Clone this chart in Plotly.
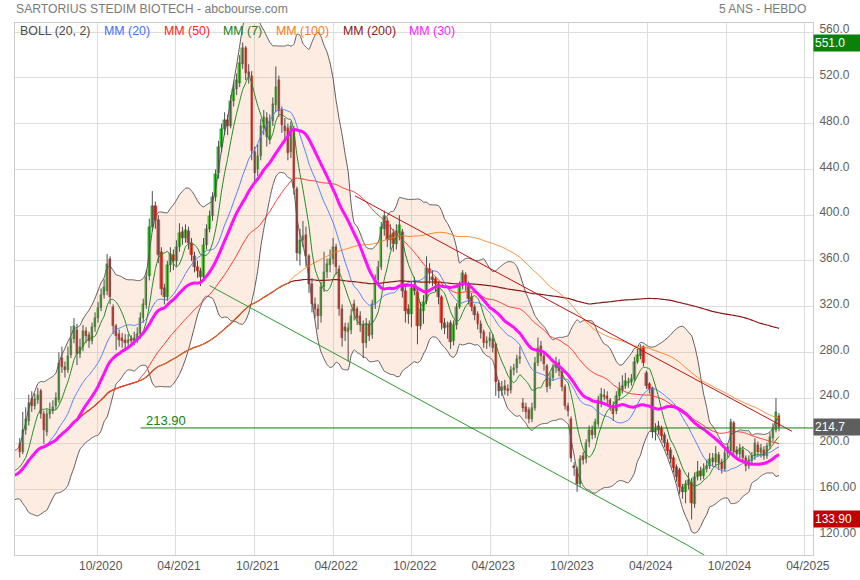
import pandas as pd
import plotly.graph_objects as go

# ---------------- data (weekly candles) ----------------
history_closes = [158, 162, 170, 178, 186, 190, 180, 160, 168, 182]

opens = [
    200, 193, 212, 220, 239, 233, 238, 246, 226, 210,
    226, 229, 233, 238, 275, 267, 265, 278, 292, 300,
    279, 285, 299, 295, 290, 302, 310, 319, 330, 334,
    362, 320, 303, 296, 293, 291, 288, 292, 290, 292,
    296, 310, 321, 347, 390, 408, 396, 368, 336, 328,
    356, 365, 360, 372, 385, 380, 386, 376, 364, 355,
    351, 346, 374, 388, 399, 416, 437, 460, 475, 483,
    478, 500, 510, 516, 532, 546, 525, 522, 455, 440,
    452, 476, 485, 466, 482, 496, 518, 492, 478, 476,
    455, 474, 423, 366, 378, 383, 364, 340, 322, 318,
    312, 337, 350, 356, 362, 372, 353, 318, 302, 298,
    300, 322, 318, 312, 304, 288, 305, 295, 322, 343,
    355, 388, 395, 378, 384, 375, 385, 385, 334, 318,
    314, 337, 333, 303, 316, 325, 353, 346, 344, 340,
    328, 306, 302, 306, 290, 304, 320, 338, 348, 340,
    328, 320, 314, 305, 298, 288, 290, 292, 287, 253,
    246, 251, 248, 247, 265, 266, 274, 236, 232, 230,
    222, 231, 271, 286, 277, 268, 251, 258, 266, 271,
    263, 250, 233, 222, 181, 178, 165, 189, 187, 202,
    212, 208, 217, 236, 243, 242, 238, 233, 229, 242,
    247, 251, 253, 254, 257, 272, 277, 285, 262, 252,
    249, 210, 216, 214, 208, 201, 195, 188, 180, 177,
    162, 158, 164, 166, 147, 171, 176, 172, 178, 181,
    188, 184, 190, 184, 178, 192, 194, 218, 195, 191,
    195, 188, 181, 185, 189, 199, 192, 195, 189, 198,
    205, 212, 224,
]

highs = [
    205, 228, 232, 243, 246, 244, 249, 248, 229, 230,
    236, 238, 245, 280, 285, 272, 285, 303, 310, 305,
    292, 304, 302, 298, 306, 315, 324, 336, 344, 366,
    364, 322, 305, 300, 297, 296, 296, 295, 298, 302,
    315, 327, 352, 397, 421, 412, 400, 372, 340, 360,
    372, 370, 378, 393, 390, 392, 390, 380, 368, 360,
    354, 380, 392, 404, 420, 440, 465, 480, 490, 488,
    505, 516, 524, 540, 551, 548, 532, 526, 460, 462,
    484, 492, 490, 488, 503, 530, 522, 495, 485, 480,
    482, 478, 425, 388, 395, 390, 366, 345, 328, 322,
    342, 368, 362, 370, 380, 375, 356, 322, 306, 306,
    318, 326, 320, 316, 308, 310, 308, 326, 348, 360,
    394, 404, 398, 392, 388, 392, 400, 388, 338, 322,
    342, 346, 337, 324, 330, 364, 358, 352, 346, 342,
    330, 310, 307, 308, 308, 323, 342, 352, 350, 342,
    332, 322, 316, 308, 300, 294, 298, 296, 288, 256,
    255, 256, 252, 268, 270, 278, 285, 240, 236, 232,
    236, 276, 293, 290, 280, 270, 262, 270, 276, 274,
    265, 252, 236, 224, 184, 180, 190, 193, 204, 216,
    216, 222, 242, 249, 248, 246, 240, 237, 246, 254,
    260, 262, 258, 261, 276, 283, 287, 286, 264, 254,
    250, 218, 220, 216, 210, 204, 197, 190, 182, 179,
    165, 168, 175, 170, 175, 185, 180, 183, 186, 192,
    192, 198, 193, 187, 196, 200, 222, 220, 198, 200,
    198, 190, 190, 193, 205, 202, 200, 198, 201, 210,
    218, 240, 227,
]

lows = [
    188, 191, 208, 216, 228, 230, 235, 222, 200, 207,
    222, 226, 230, 236, 262, 258, 262, 275, 288, 269,
    275, 281, 288, 284, 287, 298, 306, 316, 327, 330,
    322, 296, 282, 285, 284, 282, 284, 285, 286, 288,
    292, 306, 318, 343, 386, 388, 358, 330, 322, 325,
    350, 352, 355, 368, 374, 376, 370, 360, 350, 345,
    338, 344, 370, 385, 395, 412, 432, 455, 470, 470,
    476, 495, 505, 512, 528, 518, 515, 448, 430, 434,
    448, 470, 460, 462, 478, 490, 486, 472, 465, 448,
    450, 418, 360, 356, 372, 355, 332, 315, 310, 300,
    306, 333, 345, 350, 357, 348, 312, 285, 290, 272,
    296, 308, 304, 298, 275, 284, 290, 292, 318, 338,
    352, 382, 372, 370, 368, 370, 378, 328, 306, 305,
    302, 330, 287, 300, 305, 322, 340, 338, 333, 322,
    300, 296, 292, 283, 286, 300, 318, 335, 334, 322,
    316, 308, 300, 292, 284, 283, 285, 280, 242, 240,
    242, 243, 242, 244, 260, 262, 270, 228, 222, 218,
    219, 229, 268, 272, 264, 245, 248, 255, 262, 259,
    246, 230, 224, 184, 172, 158, 162, 182, 183, 197,
    204, 205, 215, 232, 238, 235, 229, 220, 226, 238,
    244, 248, 249, 251, 255, 270, 274, 268, 248, 244,
    205, 203, 208, 203, 197, 190, 183, 175, 167, 156,
    152, 148, 160, 133.9, 144, 168, 168, 169, 175, 178,
    180, 180, 177, 174, 176, 188, 192, 190, 186, 187,
    184, 176, 178, 182, 186, 189, 188, 186, 187, 195,
    202, 210, 211,
]

closes = [
    193, 212, 222, 236, 233, 239, 243, 226, 212, 226,
    229, 232, 240, 271, 267, 265, 277, 292, 303, 279,
    285, 299, 294, 290, 302, 310, 319, 330, 337, 357,
    328, 303, 294, 291, 290, 288, 291, 290, 293, 296,
    310, 322, 346, 390, 408, 396, 365, 335, 328, 356,
    366, 360, 372, 384, 380, 387, 376, 365, 355, 351,
    346, 374, 388, 399, 416, 436, 460, 475, 483, 478,
    500, 510, 518, 533, 546, 524, 522, 456, 437, 452,
    478, 486, 468, 482, 497, 512, 491, 479, 474, 454,
    478, 424, 367, 378, 382, 364, 340, 322, 318, 312,
    337, 350, 357, 362, 372, 355, 318, 293, 299, 301,
    312, 316, 310, 304, 288, 305, 294, 322, 343, 355,
    390, 399, 378, 383, 375, 386, 391, 334, 316, 314,
    336, 334, 303, 318, 324, 354, 349, 343, 340, 328,
    306, 301, 302, 289, 304, 320, 338, 349, 340, 327,
    320, 313, 305, 297, 288, 290, 293, 284, 254, 246,
    250, 247, 246, 265, 266, 274, 276, 231, 228, 222,
    231, 271, 284, 277, 270, 250, 258, 266, 272, 264,
    250, 233, 229, 188, 179, 165, 187, 186, 201, 212,
    208, 219, 238, 244, 241, 239, 233, 226, 242, 248,
    251, 255, 254, 257, 272, 278, 283, 271, 251, 248,
    210, 213, 212, 207, 201, 194, 187, 179, 171, 162,
    158, 165, 168, 148, 171, 175, 172, 178, 181, 187,
    184, 191, 183, 178, 192, 197, 219, 194, 191, 196,
    188, 181, 186, 189, 201, 193, 196, 189, 198, 206,
    213, 228, 214.7,
]

x_tick_dates = ["2020-10-01", "2021-04-01", "2021-10-01", "2022-04-01", "2022-10-01",
                "2023-04-01", "2023-10-01", "2024-04-01", "2024-10-01", "2025-04-01"]
x_tick_labels = ["10/2020", "04/2021", "10/2021", "04/2022", "10/2022",
                 "04/2023", "10/2023", "04/2024", "10/2024", "04/2025"]
y_tick_values = [120, 160, 200, 240, 280, 320, 360, 400, 440, 480, 520, 560]
y_tick_labels = ["120.00", "160.00", "200.0", "240.0", "280.0", "320.0",
                 "360.0", "400.0", "440.0", "480.0", "520.0", "560.0"]

period_high = 551.0
period_low = 133.90
last_price = 214.7
support_level = 213.90
support_start = "2021-01-09"
green_trend_dates = ["2021-06-18", "2024-07-01", "2024-10-20"]
green_trend_values = [338.4, 111.7, 86.8]
red_trend_dates = ["2022-05-22", "2025-03-02"]
red_trend_values = [416.9, 211.0]

# ---------------- derived series ----------------
n = len(closes)
dates = pd.date_range("2020-04-03", periods=n, freq="7D")
hist_dates = pd.date_range(end=dates[0] - pd.Timedelta(days=7), periods=len(history_closes), freq="7D")
all_dates = hist_dates.append(dates)
s = pd.Series(history_closes + closes, index=all_dates, dtype=float)


def sma(p):
    return s.rolling(p, min_periods=1).mean()


mid20 = sma(20)
std20 = s.rolling(20, min_periods=1).std(ddof=0)
boll_up = mid20 + 2 * std20
boll_lo = mid20 - 2 * std20

FONT = "Liberation Sans, Arial, sans-serif"
fig = go.Figure()

spl = dict(shape="spline", smoothing=0.5)

# Bollinger band
fig.add_trace(go.Scatter(x=all_dates, y=boll_lo, mode="lines",
                         line=dict(color="#5a5a5a", width=1, **spl), hoverinfo="skip"))
fig.add_trace(go.Scatter(x=all_dates, y=boll_up, mode="lines", fill="tonexty",
                         fillcolor="rgba(247,170,120,0.22)",
                         line=dict(color="#5a5a5a", width=1, **spl), hoverinfo="skip"))

# wicks
wx, wy = [], []
for d, h, l in zip(dates, highs, lows):
    wx += [d, d, None]
    wy += [l, h, None]
fig.add_trace(go.Scatter(x=wx, y=wy, mode="lines", line=dict(color="#4d4d4d", width=1),
                         hoverinfo="skip"))

# bodies
base = [min(o, c) for o, c in zip(opens, closes)]
height = [max(abs(c - o), 0.8) for o, c in zip(opens, closes)]
colors = ["#2cc62c" if c >= o else "#e2231d" for o, c in zip(opens, closes)]
edge = ["#1c931c" if c >= o else "#b01410" for o, c in zip(opens, closes)]
fig.add_trace(go.Bar(x=dates, y=height, base=base, width=5.6 * 86400000,
                     marker=dict(color=colors, line=dict(color=edge, width=0.4)),
                     hoverinfo="skip"))

# moving averages
ma_specs = [
    (200, "#8b1a1a", 1.2),
    (100, "#ff7f1f", 1.0),
    (50, "#ff2b2b", 1.0),
    (20, "#4f7dff", 1.0),
    (7, "#1b8a1b", 1.0),
    (30, "#ff10ff", 3.0),
]
for p, col, w in ma_specs:
    fig.add_trace(go.Scatter(x=all_dates, y=sma(p), mode="lines",
                             line=dict(color=col, width=w, **spl), hoverinfo="skip"))

# trend lines
fig.add_trace(go.Scatter(x=green_trend_dates, y=green_trend_values, mode="lines",
                         line=dict(color="#2e9a2e", width=1), hoverinfo="skip"))
fig.add_trace(go.Scatter(x=red_trend_dates, y=red_trend_values, mode="lines",
                         line=dict(color="#c01010", width=1), hoverinfo="skip"))
# support line
fig.add_trace(go.Scatter(x=[support_start, "2025-04-20"], y=[support_level, support_level],
                         mode="lines", line=dict(color="#0f7d0f", width=1), hoverinfo="skip"))

# ---------------- layout ----------------
L, R, T, B = 15, 47, 23, 25
W, H = 860, 580
pw, ph = W - L - R, H - T - B


def px(xp):
    return (xp - L) / pw


def py(yp):
    return (H - B - yp) / ph


annotations = [
    dict(text="SARTORIUS STEDIM BIOTECH - abcbourse.com", x=px(14), y=py(9), xanchor="left",
         yanchor="middle", font=dict(size=12.2, color="#7a7a7a", family=FONT)),
    dict(text="5 ANS - HEBDO", x=px(808), y=py(9), xanchor="right", yanchor="middle",
         font=dict(size=12, color="#7a7a7a", family=FONT)),
]
legend_items = [
    ("BOLL (20, 2)", "#4a4a4a", 18),
    ("MM (20)", "#3f6fff", 102),
    ("MM (50)", "#ff2424", 162),
    ("MM (7)", "#168216", 221),
    ("MM (100)", "#ff7a14", 274),
    ("MM (200)", "#8b1a1a", 341),
    ("MM (30)", "#ff1cff", 407),
]
for txt, col, xl in legend_items:
    annotations.append(dict(text=txt, x=px(xl), y=py(31), xanchor="left", yanchor="middle",
                            font=dict(size=12.4, color=col, family=FONT)))

for val, txt, bg in [(period_high, "551.0", "#0a820a"),
                     (last_price, "214.7", "#5e5e5e"),
                     (period_low, "133.90", "#c00000")]:
    annotations.append(dict(text=txt, xref="paper", yref="y", x=1.0, y=val, xanchor="left",
                            yanchor="middle", xshift=0, showarrow=False, align="left",
                            bgcolor=bg, width=45, height=14, borderpad=1,
                            font=dict(size=12, color="white", family=FONT)))

annotations.append(dict(text="213.90", xref="x", yref="y", x=support_start, y=support_level,
                        xanchor="left", yanchor="bottom", xshift=3, yshift=-2, showarrow=False,
                        font=dict(size=13, color="#128212", family=FONT)))

for a in annotations:
    a.setdefault("xref", "paper")
    a.setdefault("yref", "paper")
    a.setdefault("showarrow", False)

fig.update_layout(
    template="none",
    width=W, height=H,
    margin=dict(l=L, r=R, t=T, b=B, autoexpand=False),
    paper_bgcolor="white", plot_bgcolor="white",
    showlegend=False, bargap=0,
    font=dict(family=FONT, size=12, color="#555555"),
    annotations=annotations,
    xaxis=dict(type="date", range=["2020-03-23", "2025-04-20"],
               tickvals=x_tick_dates, ticktext=x_tick_labels, automargin=False,
               showgrid=True, gridcolor="#dddddd", gridwidth=1,
               showline=True, linecolor="#cccccc", linewidth=1, mirror=True,
               ticks="", ticklabelshift=3, zeroline=False,
               tickfont=dict(size=12, color="#555555", family=FONT),
               rangeslider=dict(visible=False), fixedrange=True),
    yaxis=dict(side="right", range=[102.8, 568.05], automargin=False,
               tickvals=y_tick_values, ticktext=y_tick_labels,
               showgrid=True, gridcolor="#dddddd", gridwidth=1,
               showline=True, linecolor="#cccccc", linewidth=1, mirror=True,
               ticks="", ticklabelshift=-3, ticklabelstandoff=3, zeroline=False,
               tickfont=dict(size=12, color="#606060", family=FONT), fixedrange=True),
)

fig.write_html(
    "out.html",
    config={"displayModeBar": False},
    post_script="document.body.style.margin='0';document.body.style.overflow='hidden';",
)
